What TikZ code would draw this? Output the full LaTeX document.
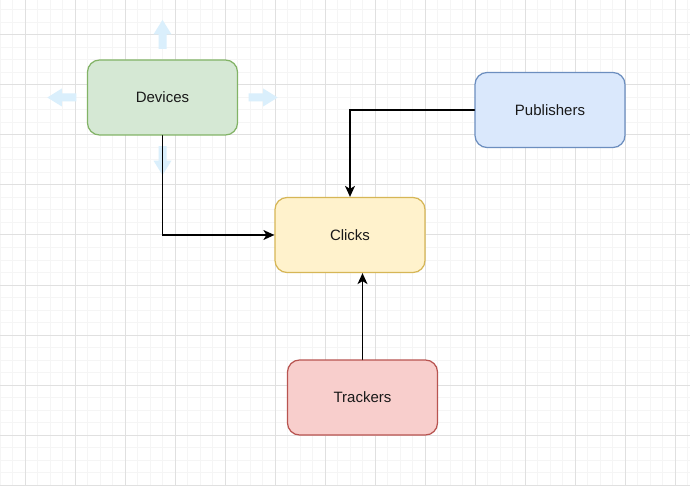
\documentclass[tikz,border=0pt]{standalone}
\usepackage{fontspec}
\setmainfont{Liberation Sans}
\usetikzlibrary{arrows.meta}
\definecolor{gridminor}{RGB}{245,245,245}
\definecolor{gridmajor}{RGB}{224,224,224}
\definecolor{hintblue}{RGB}{218,239,252}
\definecolor{devfill}{HTML}{D5E8D4}\definecolor{devline}{HTML}{82B366}
\definecolor{clkfill}{HTML}{FFF2CC}\definecolor{clkline}{HTML}{D6B656}
\definecolor{pubfill}{HTML}{DAE8FC}\definecolor{publine}{HTML}{6C8EBF}
\definecolor{trkfill}{HTML}{F8CECC}\definecolor{trkline}{HTML}{B85450}
\tikzset{
  box/.style={draw,line width=1.25pt,rounded corners=12pt,minimum width=150pt,
    minimum height=75pt,inner sep=0pt,text=black!90,font=\fontsize{15}{18}\selectfont},
  hint/.style={fill=hintblue},
  link/.style={line width=1.4pt,-{Stealth[length=11pt,width=10pt,inset=3pt]}}
}
\begin{document}
\begin{tikzpicture}[x=1pt,y=-1pt,line cap=round]
	%% Canvas
	\fill[white] (0,0) rectangle (690,486);
	\useasboundingbox (0,0) rectangle (690,486);
	\foreach \x in {0,12.5,...,690} \draw[gridminor,line width=1pt] (\x,0) -- (\x,486);
	\foreach \y in {-2.5,10,...,486} \draw[gridminor,line width=1pt] (0,\y) -- (690,\y);
	\foreach \x in {25,75,...,690} \draw[gridmajor,line width=1pt] (\x,0) -- (\x,486);
	\foreach \y in {35,85,...,486} \draw[gridmajor,line width=1pt] (0,\y) -- (690,\y);
	%% Boxes
	\node[box,fill=devfill,draw=devline] (dev) at (162.5,97.5) {Devices};
	\node[box,fill=clkfill,draw=clkline] (clk) at (350,235) {Clicks};
	\node[box,fill=pubfill,draw=publine] (pub) at (550,110) {Publishers};
	\node[box,fill=trkfill,draw=trkline] (trk) at (362.5,397.5) {Trackers};
	%% Hover arrows
	\foreach \anc/\ang in {east/0,north/90,west/180,south/270}
		\fill[hint,shift={(dev.\anc)},rotate=\ang] (10.5,-4) -- (25,-4) -- (25,-9)
			-- (39.5,0) -- (25,9) -- (25,4) -- (10.5,4) -- cycle;
	%% Links
	\draw[link] (dev.south) |- (clk.west);
	\draw[link] (pub.west) -| (clk.north);
	\draw[link] (trk.north) -- (trk.north |- clk.south);
\end{tikzpicture}
\end{document}
